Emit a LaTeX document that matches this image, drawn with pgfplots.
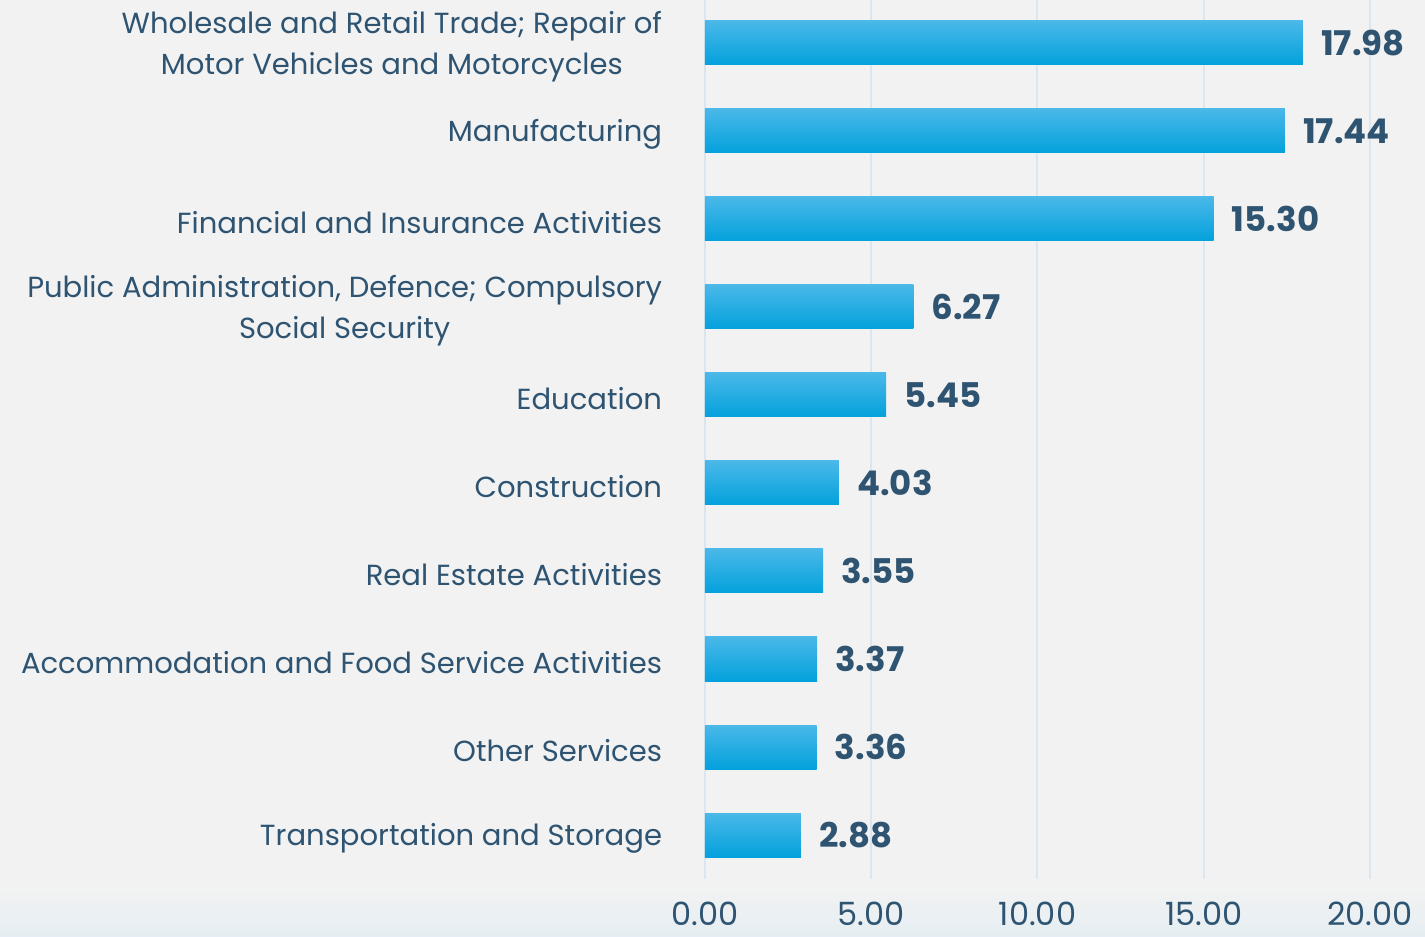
\documentclass[border=0pt]{standalone}
\usepackage{fontspec}
\setmainfont{Poppins}
\usepackage{pgfplots}
\pgfplotsset{compat=1.18}
\definecolor{txt}{HTML}{2E5472}
\definecolor{bg}{HTML}{F2F2F2}
\definecolor{bgbot}{HTML}{E5EEF3}
\definecolor{gridc}{HTML}{DCE6EE}
\definecolor{bartop}{HTML}{4AB8E9}
\definecolor{barmid}{HTML}{1AB2EE}
\definecolor{barbot}{HTML}{03A1DC}

\pgfplotstableread{
idx value
0 17.98
1 17.44
2 15.30
3 6.27
4 5.45
5 4.03
6 3.55
7 3.37
8 3.36
9 2.88
}\sectors

\begin{document}
\begin{tikzpicture}[x=0.75pt,y=0.75pt]
% page background, 1 unit = 1 px of the reference
\fill[bg] (-705,-58) rectangle (720,879);
\shade[top color=bg,bottom color=bgbot] (-705,-58) rectangle (720,-8);
\begin{axis}[
    at={(0,0)}, anchor=south west,
    scale only axis,
    width=498.75pt, height=660pt,
    xmin=0, xmax=20,
    ymin=-0.5, ymax=9.5,
    y dir=reverse,
    xtick={0,5,10,15,20},
    ytick={0,...,9},
    yticklabels={
        {Wholesale and Retail Trade; Repair of\\Motor Vehicles and Motorcycles},
        Manufacturing,
        Financial and Insurance Activities,
        {Public Administration, Defence; Compulsory\\Social Security},
        Education,
        Construction,
        Real Estate Activities,
        Accommodation and Food Service Activities,
        Other Services,
        Transportation and Storage},
    xmajorgrids,
    grid style={gridc, line width=1.5pt},
    axis line style={draw=none},
    tick style={draw=none},
    /pgf/number format/assume math mode=true,
    xticklabel={\pgfmathprintnumber[fixed,fixed zerofill,precision=2]{\tick}},
    xticklabel style={font=\fontsize{24}{27}\selectfont, text=txt, inner sep=0pt, anchor=center, yshift=-26pt},
    yticklabel style={font=\fontsize{21.8}{30.7}\selectfont, text=txt, align=center, inner sep=0pt, anchor=east, xshift=-32pt, yshift=-2.5pt},
    point meta=x,
    nodes near coords={\pgfmathprintnumber[fixed,fixed zerofill,precision=2,assume math mode=true]{\pgfplotspointmeta}},
    every node near coord/.style={anchor=west, inner sep=0pt, xshift=13.5pt, font=\fontsize{25.5}{28}\selectfont\bfseries, text=txt},
]
% one plot per row, so that each bar gets its own gradient
\pgfplotsinvokeforeach{0,...,9}{
\addplot[xbar, bar width=33pt, bar shift=0pt, draw=none,
    top color=bartop, middle color=barmid, bottom color=barbot]
    table[x=value, y=idx, restrict y to domain=#1:#1] {\sectors};
}
\end{axis}
\pgfresetboundingbox
\useasboundingbox (-705,-58) rectangle (720,879);
\end{tikzpicture}
\end{document}
